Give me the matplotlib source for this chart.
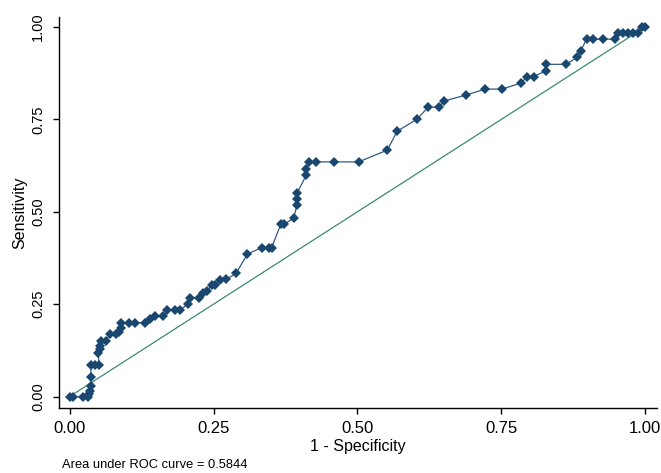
import matplotlib
matplotlib.use("Agg")
import matplotlib.pyplot as plt

plt.rcParams['font.family'] = ['Liberation Sans', 'DejaVu Sans']

# ROC points (1 - specificity, sensitivity)
fpr = [0.0, 0.006, 0.024, 0.032, 0.034, 0.035, 0.037, 0.037, 0.037, 0.044,
       0.051, 0.050, 0.052, 0.053, 0.054, 0.063, 0.070, 0.081, 0.086, 0.089,
       0.090, 0.104, 0.114, 0.131, 0.140, 0.148, 0.163, 0.170, 0.183, 0.191,
       0.206, 0.209, 0.224, 0.232, 0.239, 0.247, 0.253, 0.261, 0.272, 0.289,
       0.309, 0.334, 0.347, 0.351, 0.367, 0.373, 0.389, 0.395, 0.395, 0.395,
       0.411, 0.411, 0.416, 0.428, 0.460, 0.502, 0.552, 0.569, 0.603, 0.623,
       0.641, 0.651, 0.689, 0.722, 0.751, 0.784, 0.795, 0.806, 0.827, 0.827,
       0.862, 0.882, 0.888, 0.898, 0.910, 0.927, 0.948, 0.953, 0.961, 0.970,
       0.979, 0.987, 0.994, 1.0]
tpr = [0.0, 0.0, 0.0, 0.0, 0.007, 0.016, 0.028, 0.053, 0.085, 0.085,
       0.085, 0.117, 0.128, 0.137, 0.151, 0.151, 0.168, 0.168, 0.175, 0.185,
       0.198, 0.200, 0.200, 0.200, 0.209, 0.218, 0.218, 0.234, 0.234, 0.234,
       0.250, 0.268, 0.268, 0.279, 0.286, 0.302, 0.302, 0.315, 0.317, 0.333,
       0.386, 0.403, 0.403, 0.403, 0.467, 0.467, 0.482, 0.518, 0.534, 0.550,
       0.599, 0.616, 0.635, 0.635, 0.635, 0.635, 0.667, 0.718, 0.750, 0.783,
       0.783, 0.800, 0.816, 0.832, 0.832, 0.848, 0.866, 0.866, 0.881, 0.899,
       0.899, 0.918, 0.935, 0.967, 0.967, 0.967, 0.967, 0.985, 0.985, 0.985,
       0.985, 0.985, 1.0, 1.0]
ticks = [0.0, 0.25, 0.5, 0.75, 1.0]
tick_labels = ['0.00', '0.25', '0.50', '0.75', '1.00']
auc = 0.5844

navy = '#1a476f'
ref_green = '#3a8a74'

fig = plt.figure(figsize=(6.61, 4.73), dpi=100)
ax = fig.add_axes([0.0893, 0.1374, 0.9047, 0.8266])

# reference line
ax.plot([0, 1], [0, 1], color=ref_green, lw=0.9, zorder=1)
# ROC curve
ax.plot(fpr, tpr, color='#2f5a85', lw=0.9, zorder=2)
ax.plot(fpr, tpr, ls='none', marker='D', ms=5.2, mew=0, mfc=navy, zorder=3)

ax.set_xlim(-0.0184, 1.0205)
ax.set_ylim(-0.031, 1.027)
ax.set_xticks(ticks)
ax.set_xticklabels(tick_labels)
ax.set_yticks(ticks)
ax.set_yticklabels(tick_labels, rotation=90, va='center')

ax.spines['top'].set_visible(False)
ax.spines['right'].set_visible(False)
for s in ['left', 'bottom']:
    ax.spines[s].set_linewidth(1.0)
ax.tick_params(axis='x', length=4, width=1.0, pad=5.5, labelsize=12)
ax.tick_params(axis='y', length=4, width=1.0, pad=6, labelsize=10.5)

ax.set_xlabel('1 - Specificity', fontsize=11.5, labelpad=2)
ax.set_ylabel('Sensitivity', fontsize=11.5, labelpad=3)

fig.text(62 / 661, 1 - 465 / 473, 'Area under ROC curve = %.4f' % auc,
         fontsize=9.3, va='center', ha='left')

fig.savefig('out.png', dpi=100)
